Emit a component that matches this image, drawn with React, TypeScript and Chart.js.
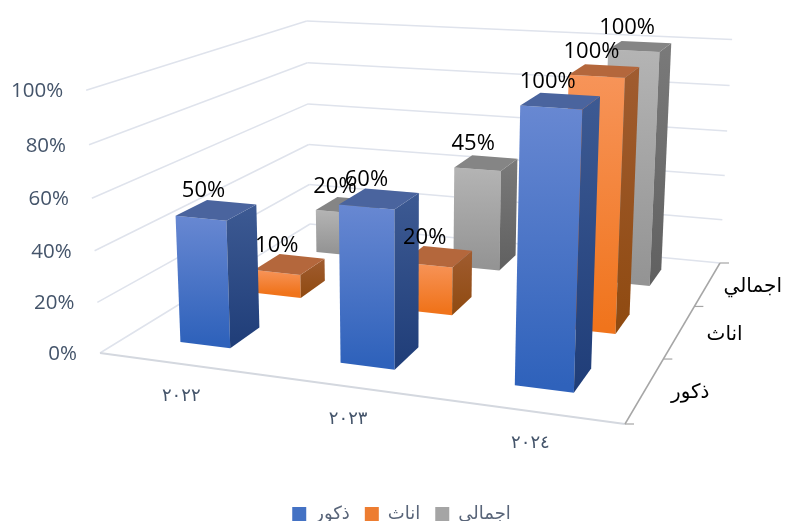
import React, { useEffect, useRef } from "react";
import { Chart, registerables } from "chart.js";

Chart.register(...registerables);

const categories = ["٢٠٢٢", "٢٠٢٣", "٢٠٢٤"];
const seriesNames = ["ذكور", "اناث", "اجمالي"];
const maleValues = [50, 60, 100];
const femaleValues = [10, 20, 100];
const totalValues = [20, 45, 100];
const tickStep = 20;

// Screen positions of the 3D box corners that hold the plot.
const FLOOR = { fl: [100, 353], fr: [625, 424], br: [720, 263], bl: [310, 224] };
const TOPS = [
  { u: 0, v: 0, p: [86, 90] },
  { u: 0, v: 1, p: [307, 20] },
  { u: 1, v: 1, p: [732, 41] },
];

function makeProjection() {
  const [x0, y0] = FLOOR.fl, [x1, y1] = FLOOR.fr, [x2, y2] = FLOOR.br, [x3, y3] = FLOOR.bl;
  const dx1 = x1 - x2, dx2 = x3 - x2, sx = x0 - x1 + x2 - x3;
  const dy1 = y1 - y2, dy2 = y3 - y2, sy = y0 - y1 + y2 - y3;
  const den = dx1 * dy2 - dx2 * dy1;
  const g = (sx * dy2 - dx2 * sy) / den;
  const h = (dx1 * sy - sx * dy1) / den;
  const a = x1 - x0 + g * x1, b = x3 - x0 + h * x3, c = x0;
  const d = y1 - y0 + g * y1, e = y3 - y0 + h * y3, f = y0;
  const rows = TOPS.map(({ u, v, p: [X, Y] }) => ({
    X, Y,
    A: X * (g * u + h * v + 1) - (a * u + b * v + c),
    B: Y * (g * u + h * v + 1) - (d * u + e * v + f),
  }));
  const mean = (k: "X" | "Y" | "A" | "B") => rows.reduce((s, r) => s + r[k], 0) / rows.length;
  const mX = mean("X"), mY = mean("Y"), mA = mean("A"), mB = mean("B");
  let num = 0, dn = 0;
  rows.forEach((r) => {
    num += (r.X - mX) * (r.A - mA) + (r.Y - mY) * (r.B - mB);
    dn += (r.X - mX) ** 2 + (r.Y - mY) ** 2;
  });
  const i = -num / dn;
  const wx = mA + i * mX, wy = mB + i * mY;
  return (u: number, v: number, w: number): [number, number] => {
    const q = g * u + h * v + i * w + 1;
    return [(a * u + b * v + c + wx * w) / q, (d * u + e * v + f + wy * w) / q];
  };
}

const project = makeProjection();

const BAR_FRACTION = 0.32;
const DEPTH_FRACTION = 0.39;
const DEPTH_SHIFT = 0.007;
const LABEL_OFFSET: [number, number] = [-13, -19];

const PALETTE = [
  { legend: "#4472c4", frontTop: "#6888d2", frontBottom: "#2f62bb", sideTop: "#3d5a93", sideBottom: "#1f3d78", top: "#4a649e" },
  { legend: "#ed7d31", frontTop: "#f79459", frontBottom: "#f0741c", sideTop: "#a05c30", sideBottom: "#8f4a10", top: "#b4673c" },
  { legend: "#a5a5a5", frontTop: "#b4b4b4", frontBottom: "#949494", sideTop: "#7a7a7a", sideBottom: "#606060", top: "#858585" },
];

const SLATE = "#44546a";
const GRID = "#dfe3ec";
const TEXT_FONT = '"Open Sans", sans-serif';
const AR_FONT = '"DejaVu Sans", sans-serif';

function poly(ctx: CanvasRenderingContext2D, pts: [number, number][], fill: string | CanvasGradient) {
  ctx.beginPath();
  pts.forEach(([x, y], i) => (i ? ctx.lineTo(x, y) : ctx.moveTo(x, y)));
  ctx.closePath();
  ctx.fillStyle = fill;
  ctx.fill();
}

function line(ctx: CanvasRenderingContext2D, a: number[], b: number[], color: string, width: number) {
  ctx.beginPath();
  ctx.moveTo(a[0], a[1]);
  ctx.lineTo(b[0], b[1]);
  ctx.strokeStyle = color;
  ctx.lineWidth = width;
  ctx.stroke();
}

const plot3d = {
  id: "plot3d",
  beforeDatasetsDraw(chart: any) {
    const { ctx, scales } = chart;
    const xs = scales.x, ys = scales.y, zs = scales.z;
    const U = (i: number) => (xs.getPixelForValue(i) - xs.left) / xs.width;
    const V = (i: number) => (zs.getPixelForValue(i) - zs.left) / zs.width + DEPTH_SHIFT;
    const W = (val: number) => (ys.bottom - ys.getPixelForValue(val)) / ys.height;
    const halfU = BAR_FRACTION / categories.length / 2;
    const halfV = DEPTH_FRACTION / seriesNames.length / 2;

    ctx.save();
    // wall grid lines and value labels
    ys.ticks.forEach((t: any) => {
      const w = W(t.value);
      const a = project(0, 0, w), b = project(0, 1, w), c = project(1, 1, w);
      line(ctx, a, b, GRID, 1.5);
      line(ctx, b, c, GRID, 1.5);
      ctx.font = "20.5px " + TEXT_FONT;
      ctx.fillStyle = SLATE;
      ctx.textAlign = "right";
      ctx.textBaseline = "middle";
      ctx.fillText(t.label, a[0] - 23, a[1] + 1);
    });
    // floor edges
    line(ctx, project(0, 0, 0), project(1, 0, 0), "#d4d8df", 2);
    line(ctx, project(1, 0, 0), project(1, 1, 0), "#a6a6a6", 1.5);
    for (let k = 0; k <= seriesNames.length; k++) {
      const p = project(1, k / seriesNames.length, 0);
      line(ctx, p, [p[0] + 9, p[1]], "#a6a6a6", 1.2);
    }

    // category labels
    ctx.font = "18px " + AR_FONT;
    ctx.fillStyle = SLATE;
    ctx.textAlign = "center";
    ctx.textBaseline = "middle";
    (ctx as any).letterSpacing = "5px";
    categories.forEach((name, i) => {
      const p = project(U(i), 0, 0);
      ctx.fillText(name, p[0] + 3, p[1] + 33);
    });
    (ctx as any).letterSpacing = "0px";

    // series labels
    ctx.font = "20px " + AR_FONT;
    ctx.fillStyle = "#000000";
    seriesNames.forEach((name, k) => {
      const p = project(1, (zs.getPixelForValue(k) - zs.left) / zs.width, 0);
      ctx.fillText(name, p[0] + 45, p[1] + 3);
    });

    // bars, farthest row first
    const labels: { text: string; x: number; y: number }[] = [];
    for (let k = seriesNames.length - 1; k >= 0; k--) {
      const pal = PALETTE[k];
      const data = chart.data.datasets[k].data as number[];
      const v0 = V(k) - halfV, v1 = V(k) + halfV;
      data.forEach((val, i) => {
        const u0 = U(i) - halfU, u1 = U(i) + halfU, w = W(val);
        const fb0 = project(u0, v0, 0), fb1 = project(u1, v0, 0);
        const ft0 = project(u0, v0, w), ft1 = project(u1, v0, w);
        const bb1 = project(u1, v1, 0), bt1 = project(u1, v1, w), bt0 = project(u0, v1, w);

        const gf = ctx.createLinearGradient(0, ft0[1], 0, fb0[1]);
        gf.addColorStop(0, pal.frontTop);
        gf.addColorStop(1, pal.frontBottom);
        poly(ctx, [fb0, fb1, ft1, ft0], gf);

        const gs = ctx.createLinearGradient(0, bt1[1], 0, fb1[1]);
        gs.addColorStop(0, pal.sideTop);
        gs.addColorStop(1, pal.sideBottom);
        poly(ctx, [fb1, bb1, bt1, ft1], gs);

        poly(ctx, [ft0, ft1, bt1, bt0], pal.top);

        const c = project(U(i), V(k), w);
        labels.push({ text: val + "%", x: c[0] + LABEL_OFFSET[0], y: c[1] + LABEL_OFFSET[1] });
      });
    }

    ctx.font = "22px " + TEXT_FONT;
    ctx.fillStyle = "#000000";
    ctx.textAlign = "center";
    ctx.textBaseline = "middle";
    labels.forEach((l) => ctx.fillText(l.text, l.x, l.y));
    ctx.restore();
    return false;
  },
};

export default function App() {
  const ref = useRef<HTMLCanvasElement>(null);
  useEffect(() => {
    const chart = new Chart(ref.current as HTMLCanvasElement, {
      type: "bar",
      data: {
        labels: categories,
        datasets: [
          { label: seriesNames[0], data: maleValues, backgroundColor: PALETTE[0].legend },
          { label: seriesNames[1], data: femaleValues, backgroundColor: PALETTE[1].legend },
          { label: seriesNames[2], data: totalValues, backgroundColor: PALETTE[2].legend },
        ],
      },
      options: {
        responsive: false,
        animation: false,
        layout: { padding: { left: 17, bottom: -12 } },
        scales: {
          x: { display: false },
          z: { type: "category", axis: "x", labels: seriesNames, offset: true, display: false } as any,
          y: {
            display: false,
            min: 0,
            max: 100,
            ticks: { stepSize: tickStep, callback: (v: any) => v + "%" },
          },
        },
        plugins: {
          legend: {
            position: "bottom",
            labels: {
              boxWidth: 14,
              boxHeight: 14,
              padding: 15,
              color: "#596579",
              font: { size: 18, family: AR_FONT },
            },
          },
          tooltip: { enabled: false },
        },
      },
      plugins: [plot3d],
    } as any);
    return () => chart.destroy();
  }, []);
  return (
    <div style={{ position: "absolute", left: 0, top: 0, width: 786, height: 521 }}>
      <canvas ref={ref} width={786} height={521} style={{ display: "block" }} />
    </div>
  );
}
